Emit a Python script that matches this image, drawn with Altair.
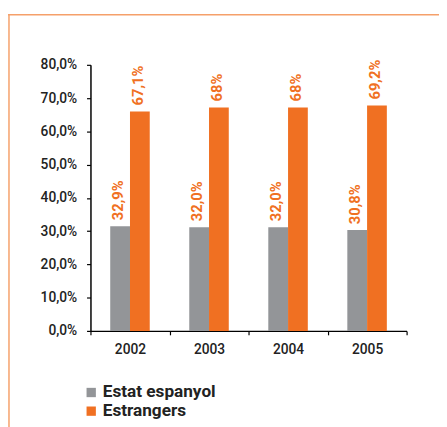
import altair as alt
import pandas as pd

years = ["2002", "2003", "2004", "2005"]
series = ["Estat espanyol", "Estrangers"]
estat_values = [31.5, 31.2, 31.2, 30.3]
estrangers_values = [66.0, 67.2, 67.2, 67.8]
estat_labels = ["32,9%", "32,0%", "32,0%", "30,8%"]
estrangers_labels = ["67,1%", "68%", "68%", "69,2%"]
y_ticks = [0, 10, 20, 30, 40, 50, 60, 70, 80]

colors = ["#939598", "#f07022"]
FONT = "Roboto, sans-serif"

rows = []
for i, yr in enumerate(years):
    rows.append({"year": yr, "serie": series[0], "value": estat_values[i], "label": estat_labels[i]})
    rows.append({"year": yr, "serie": series[1], "value": estrangers_values[i], "label": estrangers_labels[i]})
df = pd.DataFrame(rows)

W, H = 322, 271

x = alt.X("year:N", title=None, sort=years,
          scale=alt.Scale(paddingInner=0, paddingOuter=0),
          axis=alt.Axis(labelAngle=0, tickBand="extent", domainColor="#000", tickColor="#000",
                        domainWidth=1.5, tickWidth=1.2, tickSize=4, labelPadding=8,
                        labelFont=FONT, labelFontSize=14, labelColor="#222", labelFontWeight=500))
xo = alt.XOffset("serie:N", sort=series, scale=alt.Scale(paddingInner=0, paddingOuter=1))
y = alt.Y("value:Q", title=None,
          scale=alt.Scale(domain=[0, 80], nice=False),
          axis=alt.Axis(values=y_ticks, tickCount=9, grid=False, domainColor="#000", tickColor="#000",
                        domainWidth=1.5, tickWidth=1.2, tickSize=4, labelPadding=10,
                        labelOverlap=False,
                        labelExpr="replace(format(datum.value, '.1f'), '.', ',') + '%'",
                        labelFont=FONT, labelFontSize=14, labelColor="#222", labelFontWeight=500))

base = alt.Chart(df)

bars = base.mark_bar().encode(
    x=x, xOffset=xo, y=y,
    color=alt.Color("serie:N", sort=series, scale=alt.Scale(domain=series, range=colors),
                    legend=alt.Legend(title=None, orient="none", legendX=-8, legendY=325,
                                      direction="vertical", symbolType="square", symbolSize=90,
                                      symbolStrokeWidth=0, symbolOpacity=1,
                                      labelFont=FONT, labelFontSize=17.5, labelFontWeight="bold",
                                      labelColor="#222", rowPadding=0, labelOffset=3)),
)

labels = base.mark_text(angle=270, align="left", baseline="middle", dx=6, dy=-2,
                        font=FONT, fontSize=15, fontWeight="bold", color="#f07022").encode(
    x=x, xOffset=xo, y=y,
    text="label:N",
)

frame_top = alt.Chart(pd.DataFrame({"k": [0]})).mark_rule(color="#f5a06a", strokeWidth=1.5).encode(
    x=alt.value(-84), x2=alt.value(W + 40), y=alt.value(-51))
frame_left = alt.Chart(pd.DataFrame({"k": [0]})).mark_rule(color="#f5a06a", strokeWidth=1.5).encode(
    x=alt.value(-83), y=alt.value(-51), y2=alt.value(H + 100))

chart = alt.layer(bars, labels, frame_top, frame_left).properties(
    width=W, height=H,
    autosize=alt.AutoSizeParams(type="none"),
    padding={"left": 84, "top": 54, "right": 33, "bottom": 94},
).configure_view(stroke=None).configure_scale(bandPaddingInner=0)

chart.save("out.html", embed_options={"renderer": "svg", "actions": False})
